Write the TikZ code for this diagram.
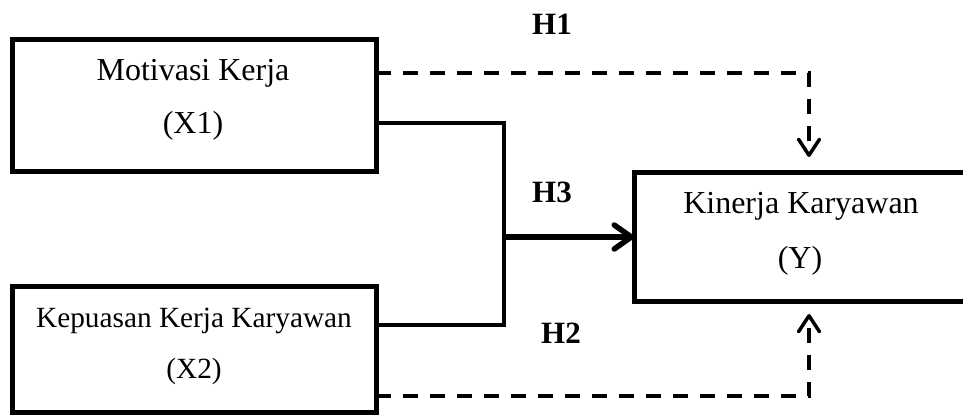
\documentclass[tikz,border=0pt]{standalone}
\usepackage{fontspec}
\setmainfont{Liberation Serif}
\usetikzlibrary{arrows.meta}
\begin{document}
\begin{tikzpicture}[x=1pt,y=-1pt,
  boxshape/.style={draw, line width=5pt, inner sep=0pt, outer sep=0pt},
  boxtext/.style={anchor=base, inner sep=0pt, font=\fontsize{32}{32}\selectfont},
  smalltext/.style={anchor=base, inner sep=0pt, font=\fontsize{29.3}{29.3}\selectfont},
  hyp/.style={inner sep=0pt, font=\fontsize{31}{31}\selectfont\bfseries},
  link/.style={line width=4.5pt},
  dashlink/.style={line width=3.5pt, dash pattern=on 15pt off 12pt,
    -{Straight Barb[round,length=16pt,width=21pt]}},
  mainarrow/.style={line width=5.5pt,
    -{Straight Barb[round,length=17pt,width=24pt]}}]

% canvas, the right-hand box runs past its edge
\path[use as bounding box, clip] (0,0) rectangle (963,415);

% variable boxes
\node[boxshape, minimum width=364pt, minimum height=132pt] (X1) at (194,105) {};
\node[boxshape, minimum width=364pt, minimum height=126pt] (X2) at (194,349) {};
\node[boxshape, minimum width=334pt, minimum height=129pt] (Y) at (801,236.5) {};

% box captions
\node[boxtext] (X1name) at (193,80) {Motivasi Kerja};
\node[boxtext] (X1tag) at (193,133) {(X1)};
\node[smalltext] (X2name) at (194,327) {Kepuasan Kerja Karyawan};
\node[smalltext] (X2tag) at (194,378) {(X2)};
\node[boxtext] (Yname) at (801,213) {Kinerja Karyawan};
\node[boxtext] (Ytag) at (800,268) {(Y)};

% bends of the connectors
\coordinate (m1) at (504,123);
\coordinate (m2) at (504,325);
\coordinate (mj) at (504,237);
\coordinate (c1) at (809,73);
\coordinate (c2) at (809,396);

% joint effect (H3)
\draw[link, line join=miter] (X1.east |- m1) -- (m1) -- (m2) -- (X2.east |- m2);
\draw[mainarrow] (mj) -- (Y.west |- mj);

% partial effects (H1, H2)
\draw[dashlink, line join=miter, shorten >=15pt] (X1.east |- c1) -- (c1) -- (Y.north -| c1);
\draw[dashlink, line join=miter, shorten >=13pt] (X2.east |- c2) -- (c2) -- (Y.south -| c2);

% hypothesis labels
\node[hyp] (H1) at (552,24) {H1};
\node[hyp] (H3) at (552,192.5) {H3};
\node[hyp] (H2) at (561,333) {H2};
\end{tikzpicture}
\end{document}
